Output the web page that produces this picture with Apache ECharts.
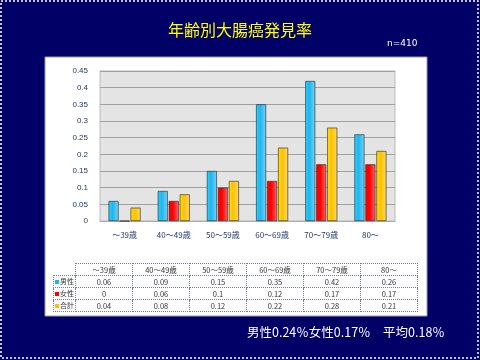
<!DOCTYPE html>
<html><head><meta charset="utf-8">
<script src="https://cdn.jsdelivr.net/npm/echarts@6/dist/echarts.min.js"></script>
<style>
html,body{margin:0;padding:0;background:#000066;}
#wrap{position:relative;width:480px;height:360px;}
#c{position:absolute;left:0;top:0;width:480px;height:360px;}
#tbl{position:absolute;left:53px;top:263px;border-collapse:collapse;table-layout:fixed;font-family:"Noto Sans CJK JP";font-size:7.5px;color:#333;}
#tbl td{border:1px dotted #7a7a9a;height:11px;padding:0;text-align:center;line-height:11px;white-space:nowrap;overflow:hidden;}
#tbl td.v{width:56px;}
#tbl td.l{width:21px;text-align:left;font-size:7px;}
#tbl td.e{border:none;}
.sq{display:inline-block;width:4px;height:4px;margin:0 1px 0 1px;vertical-align:middle;}
</style></head>
<body><div id="wrap"><div id="c"></div><table id="tbl"></table></div>
<script>
const categories = ['～39歳','40～49歳','50～59歳','60～69歳','70～79歳','80～'];
const male = [0.06,0.09,0.15,0.35,0.42,0.26];
const female = [0,0.06,0.1,0.12,0.17,0.17];
const total = [0.04,0.08,0.12,0.22,0.28,0.21];
const seriesNames = ['男性','女性','合計'];
const colors = ['#1FB4F0','#FF0000','#FFC000'];
const allData = [male,female,total];

// table
const tbl = document.getElementById('tbl');
let html = '<tr><td class="e l"></td>' + categories.map(c=>'<td class="v">'+c+'</td>').join('') + '</tr>';
for (let i=0;i<3;i++){
  html += '<tr><td class="l"><span class="sq" style="background:'+colors[i]+'"></span>'+seriesNames[i]+'</td>' + allData[i].map(v=>'<td class="v">'+v+'</td>').join('') + '</tr>';
}
tbl.innerHTML = html;

const chart = echarts.init(document.getElementById('c'), null, {renderer:'canvas'});
function grad(c){
  return new echarts.graphic.LinearGradient(0,0,1,0,[
    {offset:0,color:echarts.color.lift(c,-0.2)},
    {offset:0.4,color:c},
    {offset:1,color:echarts.color.lift(c,0.4)}]);
}
chart.setOption({
  backgroundColor:'#000066',
  animation:false,
  graphic:[
    {type:'rect',shape:{x:1,y:1,width:477,height:357},style:{fill:'none',stroke:'#ffffff',lineWidth:1.5,lineDash:[2,2]},z:-10},
    {type:'rect',shape:{x:45,y:57,width:382,height:259},style:{fill:'#ffffff',stroke:'#9a9ab0',lineWidth:1},z:-10},
    {type:'text',left:'center',top:22,style:{text:'年齢別大腸癌発見率',fill:'#FFFF00',font:'16px "Noto Sans CJK JP"'}},
    {type:'text',left:387,top:39,style:{text:'n=410',fill:'#ffffff',font:'9px "DejaVu Sans"'}},
    {type:'text',left:247,top:326,style:{text:'男性0.24％女性0.17％　平均0.18％',fill:'#ffffff',font:'12.5px "Noto Sans CJK JP"'}}
  ],
  grid:{left:100,right:85,top:71,bottom:139,show:true,backgroundColor:'#e4e4e4',borderColor:'#bbbbbb',borderWidth:1},
  xAxis:{type:'category',data:categories,axisTick:{show:false},axisLine:{lineStyle:{color:'#aaaaaa'}},
    axisLabel:{color:'#1F3864',fontSize:8,fontFamily:'Noto Sans CJK JP',margin:10}},
  yAxis:{type:'value',min:0,max:0.45,interval:0.05,axisLine:{show:false},axisTick:{show:false},
    splitLine:{lineStyle:{color:'#a0a0a0'}},
    axisLabel:{color:'#1F3864',fontSize:8,fontFamily:'Liberation Sans',margin:12,formatter:v=>String(+v.toFixed(2))}},
  series: allData.map((d,i)=>({name:seriesNames[i],type:'bar',data:d,barWidth:10,barGap:'10%',
    itemStyle:{color:grad(colors[i]),borderColor:'#222',borderWidth:0.6}}))
});
</script></body></html>
